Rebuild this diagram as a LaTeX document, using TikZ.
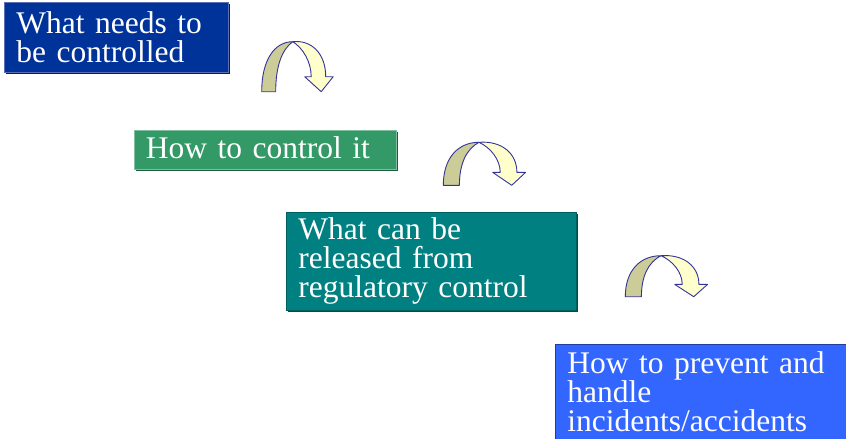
\documentclass[tikz,border=0pt]{standalone}
\usepackage{fontspec}
\setmainfont{Liberation Serif}
\usetikzlibrary{shadows}
\definecolor{needblue}{HTML}{003399}
\definecolor{neededge}{HTML}{5A6FB5}
\definecolor{needshade}{HTML}{001A66}
\definecolor{howgreen}{HTML}{339966}
\definecolor{howedge}{HTML}{7FBF9F}
\definecolor{howshade}{HTML}{1F5C3D}
\definecolor{releaseteal}{HTML}{008080}
\definecolor{releaseedge}{HTML}{006060}
\definecolor{releaseshade}{HTML}{004C4C}
\definecolor{preventblue}{HTML}{3366FF}
\definecolor{preventedge}{HTML}{1F3FA0}
\definecolor{turnback}{HTML}{CCCC99}
\definecolor{turnfront}{HTML}{FFFFCC}
\definecolor{turnedge}{HTML}{333399}
\tikzset{
  stage/.style={rectangle, anchor=north west, inner xsep=12pt, inner ysep=0pt,
    align=left, text=white, font=\fontsize{31.5}{29}\selectfont, line width=0.8pt},
  turnline/.style={draw=turnedge, line width=0.9pt, line join=round},
  turn/.pic={
    \draw[turnline, fill=turnback] (0,0) .. controls (0,32) and (13,50) .. (31,50)
      .. controls (20,42) and (14,25) .. (14,0) -- cycle;
    \draw[turnline, fill=turnfront] (31,50) .. controls (50,52) and (64,38) .. (64,15)
      -- (71.5,15) -- (59.5,0) -- (43,15) -- (49.5,15)
      .. controls (49.5,30) and (41,44) .. (31,50) -- cycle;
  }
}
\begin{document}
\begin{tikzpicture}[x=1pt,y=1pt]
  \useasboundingbox (0,0) rectangle (846,-439);
  \node[stage, fill=needblue, draw=neededge, text width=200pt, minimum height=70pt,
    drop shadow={shadow xshift=2pt, shadow yshift=-2pt, fill=needshade, opacity=1}]
    (need) at (4,-2) {What needs to\\be controlled};
  \node[stage, fill=howgreen, draw=howedge, text width=238.5pt, minimum height=39.5pt,
    text depth=5pt,
    drop shadow={shadow xshift=2pt, shadow yshift=-2pt, fill=howshade, opacity=1}]
    (how) at (133.5,-129.5) {How to control it};
  \node[stage, fill=releaseteal, draw=releaseedge, text width=266pt, minimum height=98pt,
    drop shadow={shadow xshift=2pt, shadow yshift=-2pt, fill=releaseshade, opacity=1}]
    (release) at (286,-212) {What can be\\released from\\regulatory control};
  \node[stage, fill=preventblue, draw=preventedge, text width=276pt, minimum height=95pt]
    (prevent) at (555,-344) {How to prevent and\\handle\\incidents/accidents};
  \pic at (261.7,-91.7) {turn};
  \pic[xscale=1.15, yscale=0.86] at (443.3,-185.3) {turn};
  \pic[xscale=1.15, yscale=0.82] at (625.3,-296.7) {turn};
\end{tikzpicture}
\end{document}
